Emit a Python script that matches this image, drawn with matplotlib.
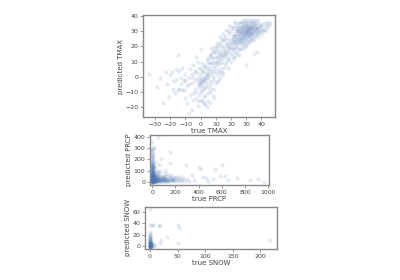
import numpy as np
import matplotlib
matplotlib.use("Agg")
import matplotlib.pyplot as plt

# (true, predicted) pairs, one list per panel
tmax_points = [
    (-34, 2), (-29, -7), (-27, -1), (-25, -17), (-23, 3), (-22, -5), (-21, -13), (-20, 1),
    (-18, -3), (-17, -11), (-16, 5), (-15, 14), (-14, 4), (-14, -8), (-13, -1), (-12, -9),
    (-12, 6), (-11, -3), (-10, -14), (-10, 2), (-9, -6), (-9, -17), (-8, -24), (-8, -1),
    (-7, -12), (-7, 5), (-6, -4), (-6, -22), (-5, -15), (-5, 0), (-5, 8), (-4, -8),
    (-4, -2), (-3, -10), (-3, 3), (-3, 13), (-2, -5), (-2, -1), (-2, -19), (-1, -7),
    (-1, 2), (-1, -3), (0, -4), (0, 0), (0, -10), (0, 5), (0, 18), (1, -2),
    (1, -6), (1, -16), (1, 3), (2, -1), (2, -8), (2, -17), (2, 7), (3, -3),
    (3, 1), (3, -18), (3, -12), (4, -5), (4, 2), (4, 11), (4, -1), (5, -7),
    (5, 4), (5, 0), (5, -16), (6, -3), (6, 6), (6, 14), (6, -10), (7, 1),
    (7, -5), (7, 9), (7, 19), (8, 3), (8, -2), (8, 12), (8, -12), (9, 6),
    (9, 0), (9, 16), (10, 10), (10, 4), (10, -4), (10, 20), (11, 8), (11, 13),
    (11, 2), (12, 11), (12, 17), (12, 5), (13, 9), (13, 14), (13, 22), (14, 16),
    (14, 10), (14, 3), (15, 12), (15, 18), (15, 24), (16, 15), (16, 20), (16, 8),
    (17, 17), (17, 22), (17, 13), (18, 19), (18, 25), (18, 11), (19, 16), (19, 22),
    (19, 28), (20, 20), (20, 24), (20, 15), (20, 30), (21, 18), (21, 23), (21, 27),
    (22, 21), (22, 25), (22, 16), (22, 33), (23, 22), (23, 27), (23, 19), (23, 30),
    (24, 24), (24, 20), (24, 28), (24, 34), (25, 23), (25, 27), (25, 31), (25, 18),
    (26, 25), (26, 29), (26, 22), (26, 33), (27, 26), (27, 30), (27, 23), (27, 35),
    (28, 27), (28, 31), (28, 24), (28, 34), (29, 28), (29, 32), (29, 25), (29, 20),
    (30, 29), (30, 33), (30, 26), (30, 36), (30, 8), (31, 28), (31, 31), (31, 34),
    (31, 24), (32, 30), (32, 27), (32, 33), (32, 35), (33, 29), (33, 32), (33, 26),
    (33, 36), (34, 30), (34, 33), (34, 28), (35, 31), (35, 34), (35, 27), (35, 15),
    (36, 32), (36, 29), (36, 35), (37, 31), (37, 33), (37, 16), (38, 32), (38, 29),
    (38, 35), (39, 33), (39, 30), (40, 34), (40, 31), (41, 33), (42, 35), (42, 31),
    (43, 34), (44, 33), (45, 34), (46, 35),
    (20, 22), (21, 25), (22, 28), (23, 24), (24, 26), (24, 30), (25, 25), (25, 29),
    (25, 33), (26, 27), (26, 31), (27, 28), (27, 32), (27, 25), (28, 29), (28, 33),
    (28, 26), (29, 30), (29, 34), (29, 27), (30, 31), (30, 28), (30, 34), (31, 30),
    (31, 27), (31, 33), (32, 29), (32, 32), (32, 26), (33, 31), (33, 34), (33, 28),
    (34, 32), (34, 29), (34, 35), (35, 30), (35, 33), (36, 31), (36, 34), (37, 32),
    (38, 30), (39, 34), (26, 24), (28, 22), (30, 24), (24, 22), (22, 19), (19, 19),
    (17, 15), (15, 14), (13, 12), (11, 10), (9, 8), (7, 4), (5, 2), (3, -1),
    (1, -4), (-1, -5), (0, -2), (2, -3), (22, 23), (26, 30), (29, 31), (31, 32),
    (33, 33), (27, 29), (29, 29), (31, 29), (30, 30), (32, 31), (16, 27), (18, 30),
    (20, 33), (22, 36), (14, 20), (12, 15), (10, 13), (8, 10), (6, 9), (4, 6),
    (2, 4), (25, 36), (28, 37), (32, 37), (35, 36), (30, 35), (27, 33), (24, 32),
    (5, 12), (7, 15), (9, -8), (11, 18), (12, -2), (13, 3), (14, 24), (15, 6),
    (16, 25), (17, 10), (18, 6), (19, 12), (20, 10), (21, 13), (21, 32), (22, 12),
    (23, 14), (23, 35), (24, 16), (25, 14), (26, 18), (27, 20), (28, 18), (29, 22),
    (30, 20), (31, 22), (32, 23), (33, 24), (34, 25), (35, 24), (36, 27), (37, 28),
    (38, 26), (40, 28), (41, 30), (43, 31), (44, 36), (19, 34), (17, 31), (15, 28),
    (13, 26), (11, 22), (9, 19), (7, 13), (5, 9), (3, 7), (1, 9), (-1, 6),
    (-2, 10), (-4, 4), (-6, 2), (-8, -5), (-10, -2), (-11, -9), (-13, -5), (-15, -9),
    (-16, -2), (-18, -8), (-19, 3), (-5, -11), (-3, -14), (-1, -12), (1, -9), (3, -7),
    (5, -11), (7, -8), (9, -14), (11, -3), (13, 0), (15, 2), (6, -17), (4, -20),
    (-2, -16), (2, -13), (0, -15), (8, 17), (10, 16), (12, 20), (14, 14), (16, 17),
    (18, 21), (20, 18), (22, 27), (24, 31), (26, 35), (28, 36), (30, 37), (34, 37),
    (36, 37), (38, 37),
]

prcp_points = [
    (0, 0), (0, 5), (0, 10), (0, 15), (0, 20), (0, 28), (0, 35), (0, 45),
    (0, 55), (0, 65), (0, 75), (0, 90), (0, 105), (0, 120), (0, 140), (0, 160),
    (0, 185), (0, 210), (0, 240), (0, 270), (0, 350), (2, 2), (2, 12), (2, 25),
    (2, 40), (2, 60), (2, 85), (2, 110), (2, 135), (2, 170), (2, 200), (3, 8),
    (3, 30), (3, 50), (3, 70), (3, 95), (3, 125), (3, 150), (3, 230), (5, 3),
    (5, 18), (5, 38), (5, 58), (5, 80), (5, 100), (5, 130), (5, 165), (5, 290),
    (8, 6), (8, 22), (8, 42), (8, 62), (8, 88), (8, 115), (8, 145), (10, 2),
    (10, 15), (10, 32), (10, 50), (10, 75), (10, 100), (12, 8), (12, 26), (12, 45),
    (12, 68), (15, 4), (15, 18), (15, 35), (15, 55), (15, 85), (18, 10), (18, 28),
    (18, 48), (18, 70), (20, 310), (20, 3), (22, 15), (22, 35), (22, 60), (25, 6),
    (25, 25), (25, 45), (28, 12), (28, 38), (30, 3), (30, 20), (30, 55), (35, 8),
    (35, 30), (38, 15), (40, 45), (40, 2), (45, 20), (48, 35), (50, 395), (50, 8),
    (55, 25), (60, 12), (60, 50), (65, 30), (70, 5), (75, 18), (80, 205), (80, 40),
    (85, 10), (90, 28), (95, 55), (100, 15), (105, 35), (110, 5), (115, 25), (120, 50),
    (125, 12), (130, 30), (140, 8), (145, 40), (150, 20), (158, 265), (158, 170), (160, 60),
    (165, 10), (175, 30), (185, 15), (195, 45), (210, 45), (215, 8), (230, 25), (250, 12),
    (265, 35), (290, 150), (300, 30), (320, 10), (340, 60), (360, 20), (400, 135), (420, 115),
    (440, 40), (465, 35), (480, 10), (520, 25), (545, 115), (580, 50), (605, 150), (625, 55),
    (650, 15), (730, 35), (840, 20), (910, 25), (960, 0),
    (0, 2), (0, 8), (0, 12), (0, 18), (0, 25), (0, 32), (0, 40), (0, 50),
    (0, 60), (0, 70), (0, 82), (0, 95), (0, 112), (0, 130), (0, 150), (0, 175),
    (1, 4), (1, 14), (1, 22), (1, 30), (1, 42), (1, 52), (1, 66), (1, 78),
    (4, 5), (4, 12), (4, 20), (4, 28), (4, 45), (6, 8), (6, 15), (6, 25),
    (7, 3), (7, 12), (9, 5), (9, 20), (14, 10), (16, 25), (20, 12), (24, 18),
    (32, 10), (42, 12), (52, 18), (68, 10), (90, 8), (110, 18), (135, 15), (180, 22),
    (20, 25), (25, 50), (30, 35), (35, 60), (40, 20), (45, 40), (50, 25), (55, 55),
    (60, 30), (65, 15), (70, 45), (75, 28), (80, 12), (85, 35), (90, 20), (95, 42),
    (100, 25), (105, 10), (110, 40), (120, 22), (130, 8), (140, 30), (150, 45), (160, 15),
    (170, 28), (180, 40), (190, 10), (200, 25), (220, 15), (240, 40), (260, 20), (280, 10),
    (30, 80), (40, 70), (50, 90), (60, 75), (20, 100), (15, 120), (10, 130), (12, 160),
    (8, 190), (6, 220), (4, 250), (2, 280), (25, 140), (40, 110), (70, 95), (100, 80),
    (130, 70), (0, 300), (3, 260), (35, 180), (60, 150), (120, 110),
]

snow_points = [
    (0, -5), (0, -3), (0, -2), (0, -1), (0, 0), (0, 0), (0, 1), (0, 1),
    (0, 2), (0, 3), (0, 4), (0, 5), (0, 6), (0, 7), (0, 8), (0, 9),
    (0, 10), (0, 12), (0, 13), (0, 15), (0, 17), (0, 19), (0, 22), (0, 25),
    (0, 37), (0, 65), (1, 0), (1, 2), (1, 5), (1, -2), (2, 1), (2, 4),
    (3, 0), (3, 37), (5, 2), (5, 37), (8, 4), (10, 1), (16, 35), (18, 37),
    (18, 6), (20, 10), (30, 16), (50, 6), (50, 37), (52, 32), (218, 10),
    (0, -4), (0, -2), (0, -1), (0, 0), (0, 1), (0, 2), (0, 3), (0, 5),
    (0, 6), (0, 8), (0, 11), (0, 14), (0, 18), (1, 1), (1, 3), (1, 8),
    (0, -3), (0, 0), (0, 2), (0, 4), (0, 7), (0, 10), (2, 0), (2, 6),
]

panels = [
    ("TMAX", tmax_points, [-38, 49], [-26.5, 40.5], [-30, -20, -10, 0, 10, 20, 30, 40], [-20, -10, 0, 10, 20, 30, 40]),
    ("PRCP", prcp_points, [-18, 1005], [-27, 415], [0, 200, 400, 600, 800, 1000], [0, 100, 200, 300, 400]),
    ("SNOW", snow_points, [-9, 230], [-5, 69], [0, 50, 100, 150, 200], [0, 20, 40, 60]),
]

# axes rectangles (figure fractions) matched to the reference
rects = [
    [0.3575, 0.582, 0.33, 0.364],
    [0.375, 0.339, 0.2975, 0.179],
    [0.3625, 0.111, 0.33, 0.15],
]

text_c = "#444444"
spine_c = "#888888"

fig = plt.figure(figsize=(4, 2.8), dpi=100)
for (name, pts, xl, yl, xt, yt), rect in zip(panels, rects):
    ax = fig.add_axes(rect)
    arr = np.array(pts, dtype=float)
    ax.scatter(arr[:, 0], arr[:, 1], s=9, color="#4C72B0", alpha=0.14, linewidths=0)
    ax.set_xlim(xl)
    ax.set_ylim(yl)
    ax.set_xticks(xt)
    ax.set_yticks(yt)
    ax.set_xlabel("true " + name, fontsize=5, color=text_c, labelpad=1)
    ax.set_ylabel("predicted " + name, fontsize=5, color=text_c, labelpad=1)
    ax.tick_params(labelsize=4.5, length=2, width=0.6, pad=1.5, colors=spine_c, labelcolor=text_c)
    for sp in ax.spines.values():
        sp.set_color(spine_c)
        sp.set_linewidth(1.0)

fig.savefig("out.png", dpi=100)
